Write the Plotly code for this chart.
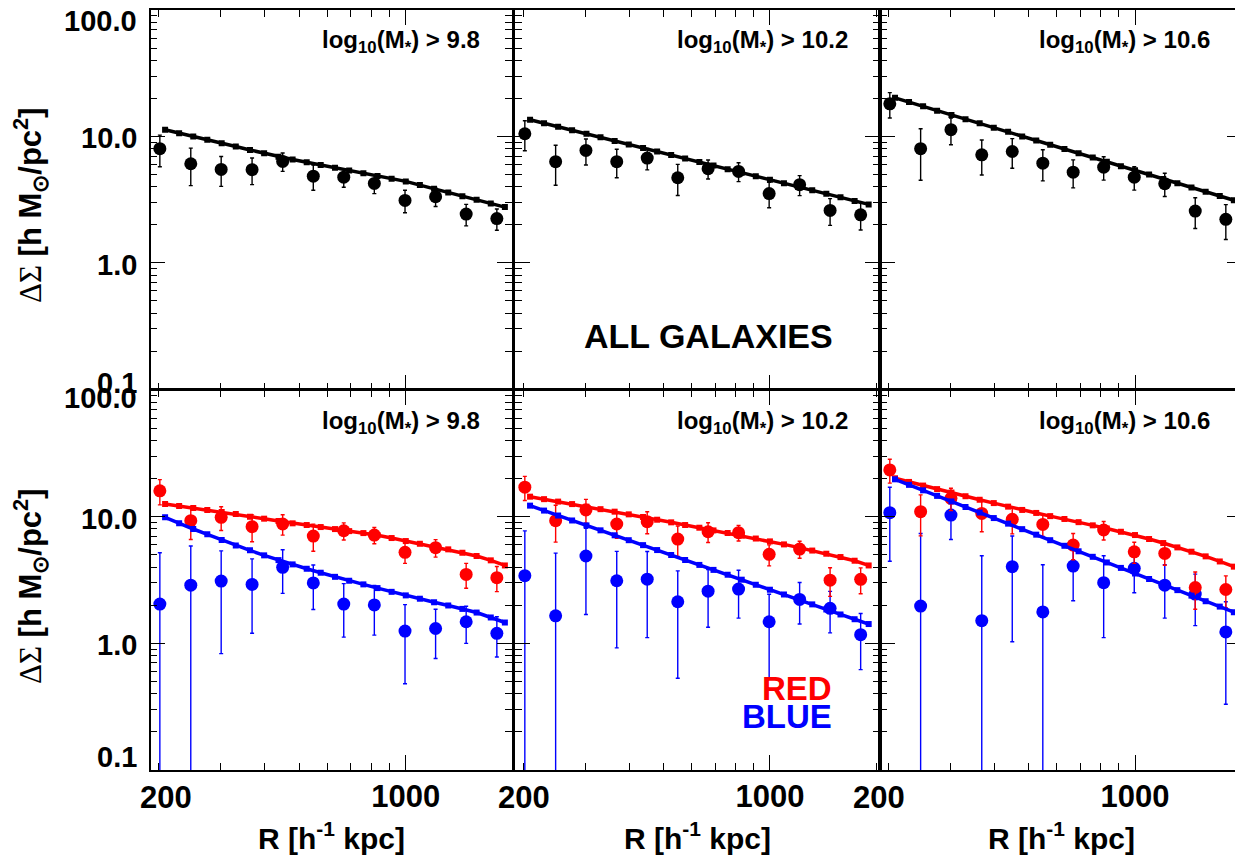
import math
import plotly.graph_objects as go

# ---------------- data ----------------
R = [202, 247, 301, 368, 449, 548, 668, 815, 995, 1214, 1481, 1808]
R_model = [209, 229, 251, 275, 302, 331, 363, 398, 437, 479, 525, 575, 631,
           692, 759, 832, 912, 1000, 1096, 1202, 1318, 1445, 1585, 1738, 1905]

mass_cuts = ["9.8", "10.2", "10.6"]

all_ds_1 = [8.0, 6.08, 5.48, 5.46, 6.34, 4.85, 4.76, 4.25, 3.12, 3.34, 2.43, 2.24]
all_err_1 = [2.25, 2.0, 1.45, 1.3, 1.05, 1.1, 0.8, 0.72, 0.63, 0.55, 0.47, 0.43]
all_ds_2 = [10.5, 6.31, 7.75, 6.31, 6.74, 4.71, 5.56, 5.29, 3.53, 4.15, 2.60, 2.40]
all_err_2 = [2.8, 2.2, 1.8, 1.6, 1.3, 1.3, 0.95, 0.9, 0.8, 0.75, 0.62, 0.58]
all_ds_3 = [18.1, 8.0, 11.3, 7.16, 7.60, 6.15, 5.22, 5.71, 4.76, 4.23, 2.57, 2.21]
all_err_3 = [4.1, 3.5, 2.7, 2.2, 2.0, 1.7, 1.3, 1.2, 1.0, 0.88, 0.7, 0.68]

red_ds_1 = [16.0, 9.3, 9.88, 8.34, 8.75, 7.03, 7.74, 7.16, 5.23, 5.69, 3.50, 3.30]
red_err_1 = [3.6, 2.7, 2.1, 2.0, 1.6, 1.7, 1.2, 1.05, 0.95, 0.9, 0.78, 0.74]
red_ds_2 = [17.1, 9.3, 11.3, 8.75, 9.13, 6.65, 7.60, 7.48, 5.04, 5.55, 3.15, 3.20]
red_err_2 = [3.7, 3.0, 2.4, 2.0, 1.8, 1.8, 1.35, 1.05, 0.95, 0.85, 0.8, 0.74]
red_ds_3 = [23.4, 10.95, 13.96, 10.6, 9.52, 8.69, 5.97, 7.85, 5.28, 5.13, 2.76, 2.66]
red_err_3 = [5.0, 3.9, 2.8, 3.0, 2.2, 1.7, 1.4, 1.3, 1.0, 1.0, 0.9, 0.75]

blue_ds_1 = [2.04, 2.88, 3.10, 2.92, 3.98, 3.00, 2.04, 2.01, 1.25, 1.31, 1.48, 1.20]
blue_err_1 = [3.15, 2.98, 2.27, 1.72, 1.5, 1.15, 0.92, 0.85, 0.77, 0.55, 0.48, 0.42]
blue_ds_2 = [3.42, 1.65, 4.89, 3.12, 3.21, 2.13, 2.58, 2.68, 1.48, 2.22, 1.89, 1.17]
blue_err_2 = [4.3, 3.5, 3.2, 2.2, 2.1, 1.6, 1.24, 1.1, 0.96, 0.8, 0.68, 0.55]
blue_ds_3 = [10.75, 1.97, 10.3, 1.51, 4.03, 1.77, 4.07, 3.01, 3.91, 2.88, 2.45, 1.23]
blue_err_3 = [6.3, 5.4, 3.7, 3.4, 3.0, 2.4, 1.9, 1.9, 1.4, 1.3, 1.07, 0.9]

all_model_1 = [11.3, 10.6, 10.0, 9.4, 8.85, 8.32, 7.82, 7.36, 6.92, 6.58, 6.25, 5.95, 5.66,
               5.38, 5.12, 4.87, 4.63, 4.41, 4.12, 3.85, 3.61, 3.37, 3.16, 2.95, 2.76]
all_model_2 = [13.55, 12.71, 11.92, 11.18, 10.48, 9.83, 9.22, 8.65, 8.11, 7.60, 7.13, 6.69, 6.27,
               5.88, 5.51, 5.17, 4.85, 4.55, 4.26, 4.00, 3.75, 3.52, 3.30, 3.09, 2.90]
all_model_3 = [20.2, 18.7, 17.3, 16.0, 14.8, 13.7, 12.7, 11.7, 10.9, 10.0, 9.29, 8.60, 7.95,
               7.36, 6.80, 6.30, 5.82, 5.39, 4.99, 4.61, 4.27, 3.95, 3.65, 3.38, 3.13]
red_model_1 = [12.59, 12.14, 11.71, 11.29, 10.89, 10.50, 10.0, 9.64, 9.24, 8.86, 8.59, 8.28, 7.98,
               7.69, 7.42, 7.12, 6.78, 6.42, 6.11, 5.79, 5.52, 5.19, 4.89, 4.52, 4.12]
red_model_2 = [14.38, 13.75, 13.15, 12.57, 12.0, 11.46, 10.95, 10.43, 9.94, 9.46, 9.02, 8.59, 8.18,
               7.79, 7.43, 7.08, 6.72, 6.38, 6.04, 5.72, 5.40, 5.10, 4.80, 4.49, 4.12]
red_model_3 = [20.1, 18.8, 17.6, 16.5, 15.5, 14.5, 13.6, 12.8, 12.0, 11.3, 10.7, 10.1, 9.59,
               9.05, 8.54, 8.06, 7.60, 7.16, 6.66, 6.19, 5.72, 5.29, 4.86, 4.43, 4.03]
blue_model_1 = [9.88, 8.86, 7.99, 7.25, 6.54, 5.93, 5.42, 4.95, 4.54, 4.20, 3.88, 3.61, 3.35,
                3.12, 2.92, 2.73, 2.55, 2.39, 2.25, 2.11, 1.99, 1.87, 1.75, 1.60, 1.46]
blue_model_2 = [12.22, 11.17, 10.21, 9.33, 8.53, 7.80, 7.13, 6.52, 5.96, 5.45, 4.98, 4.55, 4.16,
                3.80, 3.48, 3.18, 2.90, 2.65, 2.43, 2.22, 2.03, 1.85, 1.69, 1.55, 1.42]
blue_model_3 = [19.72, 17.83, 16.14, 14.59, 13.19, 11.92, 10.78, 9.75, 8.81, 7.97, 7.21, 6.52, 5.89,
                5.33, 4.82, 4.35, 3.94, 3.56, 3.22, 2.91, 2.63, 2.38, 2.15, 1.95, 1.76]

x_major = [1000]
x_minor = [200, 300, 400, 500, 600, 700, 800, 900, 2000]
y_major = [0.1, 1, 10, 100]
y_major_text = ["0.1", "1.0", "10.0", "100.0"]
y_minor = [0.2, 0.3, 0.4, 0.5, 0.6, 0.7, 0.8, 0.9, 2, 3, 4, 5, 6, 7, 8, 9,
           20, 30, 40, 50, 60, 70, 80, 90]

all_ds = [all_ds_1, all_ds_2, all_ds_3]
all_err = [all_err_1, all_err_2, all_err_3]
red_ds = [red_ds_1, red_ds_2, red_ds_3]
red_err = [red_err_1, red_err_2, red_err_3]
blue_ds = [blue_ds_1, blue_ds_2, blue_ds_3]
blue_err = [blue_err_1, blue_err_2, blue_err_3]
all_model = [all_model_1, all_model_2, all_model_3]
red_model = [red_model_1, red_model_2, red_model_3]
blue_model = [blue_model_1, blue_model_2, blue_model_3]

# ---------------- layout geometry (page pixels) ----------------
PAGE_W, PAGE_H = 1243, 857
OFF = 8                      # default body margin of the html page
WF, HF = PAGE_W - OFF, PAGE_H - OFF


def px(p):
    return (p - OFF) / WF


def py(p):
    return 1 - (p - OFF) / HF


col_px = [(150.7, 512.0), (515.0, 880.0), (880.0, 1242.0)]
row_px = [(10.0, 389.3), (390.0, 770.0)]
x_ranges = [[2.2795, 3.300], [2.2775, 3.312], [2.2776, 3.303]]

FONT = "Liberation Sans, Arial, Helvetica, sans-serif"
RED = "#ff0000"
BLUE = "#0000ff"

fig = go.Figure()


def ax_id(r, c):
    return r * 3 + c + 1


def sfx(i):
    return "" if i == 1 else str(i)


def add_points(idx, y, err, color):
    s = sfx(idx)
    fig.add_trace(go.Scatter(
        x=R, y=y, mode="markers", xaxis="x" + s, yaxis="y" + s,
        marker=dict(symbol="circle", size=13, color=color),
        error_y=dict(type="data", array=err, color=color, thickness=1.4, width=2),
        showlegend=False, hoverinfo="skip"))


def add_model(idx, y, color):
    s = sfx(idx)
    fig.add_trace(go.Scatter(
        x=R_model, y=y, mode="lines+markers", xaxis="x" + s, yaxis="y" + s,
        line=dict(color=color, width=3.5),
        marker=dict(symbol="square", size=6, color=color),
        showlegend=False, hoverinfo="skip"))


for c in range(3):
    i_top = ax_id(0, c)
    add_model(i_top, all_model[c], "black")
    add_points(i_top, all_ds[c], all_err[c], "black")
    i_bot = ax_id(1, c)
    add_points(i_bot, blue_ds[c], blue_err[c], BLUE)
    add_points(i_bot, red_ds[c], red_err[c], RED)
    add_model(i_bot, red_model[c], RED)
    add_model(i_bot, blue_model[c], BLUE)

layout = dict(
    width=WF, height=HF,
    margin=dict(l=0, r=0, t=0, b=0, pad=0, autoexpand=False),
    paper_bgcolor="white", plot_bgcolor="white",
    showlegend=False,
    font=dict(family=FONT, color="black", weight="bold"),
)

annotations = []
for r in range(2):
    for c in range(3):
        i = ax_id(r, c)
        s = sfx(i)
        x0, x1 = col_px[c]
        y0, y1 = row_px[r]
        layout["xaxis" + s] = dict(
            type="log", range=x_ranges[c], domain=[px(x0), px(x1)],
            anchor="y" + s, showline=True, linecolor="black", linewidth=1.5,
            mirror="ticks", ticks="inside", ticklen=15, tickwidth=1.3, tickcolor="black",
            tickvals=x_major, ticktext=["1000"],
            showticklabels=(r == 1), ticklabelstandoff=-2,
            tickfont=dict(family=FONT, size=31, color="black", weight="bold"),
            minor=dict(tickvals=x_minor, ticks="inside", ticklen=7, tickwidth=1.3,
                       tickcolor="black", showgrid=False),
            showgrid=False, zeroline=False, fixedrange=True, automargin=False,
        )
        layout["yaxis" + s] = dict(
            type="log", range=[-1, 2], domain=[py(y1), py(y0)],
            anchor="x" + s, showline=True, linecolor="black", linewidth=1.5,
            mirror="ticks", ticks="inside", ticklen=15, tickwidth=1.3, tickcolor="black",
            tickvals=y_major, ticktext=y_major_text, showticklabels=False,
            minor=dict(tickvals=y_minor, ticks="inside", ticklen=7, tickwidth=1.3,
                       tickcolor="black", showgrid=False),
            showgrid=False, zeroline=False, fixedrange=True, automargin=False,
        )
        # mass-cut label
        annotations.append(dict(
            xref="paper", yref="paper", x=px(x1 - 30), y=py(y0 + 32),
            xanchor="right", yanchor="middle", showarrow=False,
            text="log<sub>10</sub>(M<sub>*</sub>) > " + mass_cuts[c],
            font=dict(family=FONT, size=24, color="black", weight="bold")))

# y tick labels of the left column (IDL nudges the end labels inward)
y_label_shift = [[6, -2, -2, -11], [13, -2, -2, -8]]   # per row: 0.1, 1, 10, 100
for r in range(2):
    s = sfx(ax_id(r, 0))
    for k, v in enumerate(y_major):
        annotations.append(dict(
            xref="paper", yref="y" + s, x=px(139), y=math.log10(v),
            xanchor="right", yanchor="middle", showarrow=False,
            yshift=y_label_shift[r][k], text=y_major_text[k],
            font=dict(family=FONT, size=29, color="black", weight="bold")))

# x tick label "200" and x-axis titles
x200_px = [166, 524, 879]
for c in range(3):
    x0, x1 = col_px[c]
    annotations.append(dict(
        xref="paper", yref="paper", x=px(x200_px[c]), y=py(797),
        xanchor="center", yanchor="middle", showarrow=False, text="200",
        font=dict(family=FONT, size=31, color="black", weight="bold")))
    annotations.append(dict(
        xref="paper", yref="paper", x=px((x0 + x1) / 2), y=py(836),
        xanchor="center", yanchor="middle", showarrow=False,
        text="R [h<sup>-1</sup> kpc]",
        font=dict(family=FONT, size=30, color="black", weight="bold")))

# y-axis titles
ytitle = ('<span style="font-family:Liberation Serif;font-weight:normal">ΔΣ</span>'
          ' [h M<sub>⊙</sub>/pc<sup>2</sup>]')
for yc in [206, 587]:
    annotations.append(dict(
        xref="paper", yref="paper", x=px(30), y=py(yc),
        xanchor="center", yanchor="middle", showarrow=False, textangle=-90,
        text=ytitle, font=dict(family=FONT, size=31, color="black", weight="bold")))

annotations.append(dict(
    xref="paper", yref="paper", x=px(708), y=py(336), xanchor="center",
    yanchor="middle", showarrow=False, text="ALL GALAXIES",
    font=dict(family=FONT, size=34, color="black", weight="bold")))
annotations.append(dict(
    xref="paper", yref="paper", x=px(834), y=py(688), xanchor="right",
    yanchor="middle", showarrow=False, text="RED",
    font=dict(family=FONT, size=33, color=RED, weight="bold")))
annotations.append(dict(
    xref="paper", yref="paper", x=px(834), y=py(716), xanchor="right",
    yanchor="middle", showarrow=False, text="BLUE",
    font=dict(family=FONT, size=33, color=BLUE, weight="bold")))

layout["annotations"] = annotations
fig.update_layout(**layout)
fig.write_html("out.html")
